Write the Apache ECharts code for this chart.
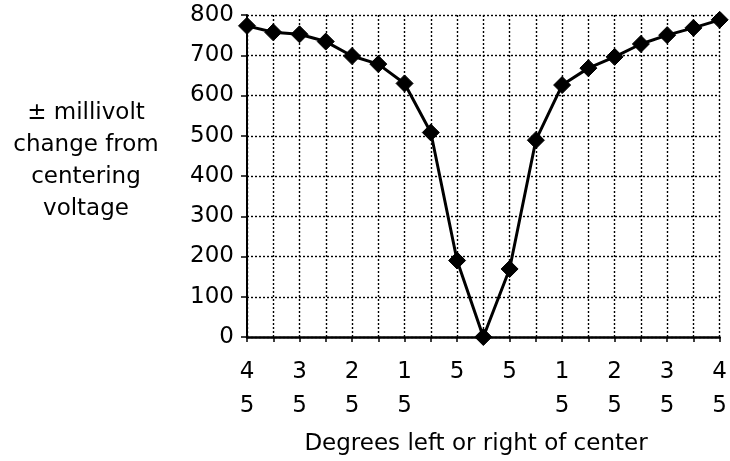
<!DOCTYPE html>
<html>
<head>
<meta charset="utf-8">
<script src="https://cdn.jsdelivr.net/npm/echarts@6/dist/echarts.min.js"></script>
<style>
  html, body { margin: 0; padding: 0; background: #fff; }
  #chart { width: 730px; height: 461px; }
</style>
</head>
<body>
<div id="chart"></div>
<script>
// Degrees left (L) or right (R) of center
var categories = ['45L','40L','35L','30L','25L','20L','15L','10L','5L','0','5R','10R','15R','20R','25R','30R','35R','40R','45R'];
// ± millivolt change from centering voltage
var millivolts = [773, 757, 752, 734, 698, 678, 630, 508, 190, 0, 169, 489, 626, 668, 696, 728, 750, 768, 788];
// tick labels as printed (digits stacked vertically)
var tickLabels = ['4\n5','','3\n5','','2\n5','','1\n5','','5','','5','','1\n5','','2\n5','','3\n5','','4\n5'];
var yTitleLines = ['\u00b1 millivolt', 'change from', 'centering', 'voltage'];
var xTitle = 'Degrees left or right of center';

var FONT = 'DejaVu Sans';
var FS = 23;
var chart = echarts.init(document.getElementById('chart'), null, { renderer: 'canvas' });

chart.setOption({
  backgroundColor: '#fff',
  animation: false,
  grid: { left: 247, right: 8, top: 15, bottom: 124, containLabel: false },
  xAxis: {
    type: 'category',
    data: categories,
    boundaryGap: false,
    axisLine: { show: true, lineStyle: { color: '#000', width: 2.5 } },
    axisTick: { show: true, interval: 0, length: 5, lineStyle: { color: '#000', width: 1.5 } },
    axisLabel: {
      interval: 0, margin: 18, color: '#000', fontFamily: FONT, fontSize: FS,
      lineHeight: 34, verticalAlign: 'top',
      formatter: function (v, i) { return tickLabels[i]; }
    },
    splitLine: { show: true, interval: 0, lineStyle: { color: '#000', width: 1.4, type: [2, 2] } }
  },
  yAxis: {
    type: 'value',
    min: 0, max: 800, interval: 100,
    axisLine: { show: true, lineStyle: { color: '#000', width: 2 } },
    axisTick: { show: true, length: 6, lineStyle: { color: '#000', width: 1.5 } },
    axisLabel: { margin: 13, color: '#000', fontFamily: FONT, fontSize: FS },
    splitLine: { show: true, lineStyle: { color: '#000', width: 1.4, type: [2, 2] } }
  },
  graphic: [
    {
      type: 'text', x: 86, y: 161,
      style: {
        text: yTitleLines.join('\n'), fill: '#000', font: FS + 'px "DejaVu Sans"',
        lineHeight: 32, align: 'center', verticalAlign: 'middle'
      }
    },
    {
      type: 'text', x: 476, y: 444,
      style: {
        text: xTitle, fill: '#000', font: FS + 'px "DejaVu Sans"',
        align: 'center', verticalAlign: 'middle'
      }
    }
  ],
  series: [
    {
      type: 'line',
      data: millivolts,
      symbol: 'none',
      lineStyle: { color: '#000', width: 3 },
      z: 3
    },
    {
      type: 'scatter',
      data: millivolts,
      symbol: 'diamond',
      symbolSize: 17,
      itemStyle: { color: '#000', borderColor: '#000', borderWidth: 1, opacity: 1 },
      silent: true,
      z: 4
    }
  ]
});
</script>
</body>
</html>
